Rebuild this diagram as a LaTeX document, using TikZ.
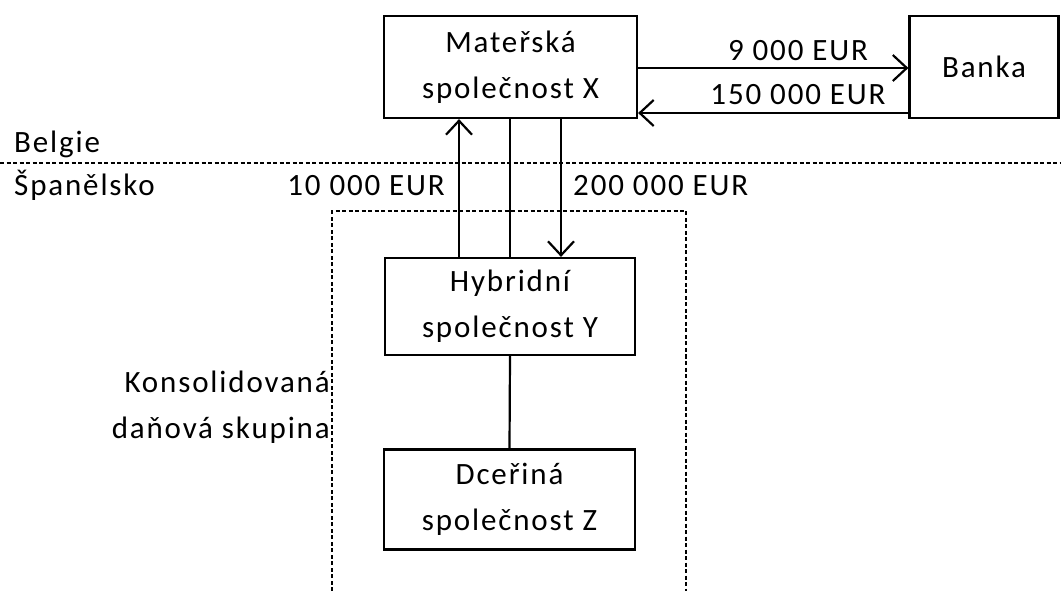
\documentclass[tikz,border=0pt]{standalone}
\usepackage{fontspec}
\setmainfont{Carlito}[LetterSpace=6]
\usetikzlibrary{arrows.meta}
\begin{document}
\begin{tikzpicture}[x=1pt,y=-1pt,
  every node/.style={font=\fontsize{31}{46}\selectfont, inner sep=0pt},
  entity/.style={draw, line width=2.2pt, align=center},
  link/.style={line width=2.2pt},
  flow/.style={line width=2.2pt, -{Straight Barb[length=14pt,width=26pt,line width=2.2pt]}},
  border/.style={line width=2pt, dash pattern=on 4pt off 2.5pt},
  lbl/.style={anchor=base}]
\useasboundingbox (0,0) rectangle (1061,591);

% companies and the bank
\node[entity, minimum width=253pt, minimum height=102pt] (X) at (510.5,67) {Mateřská\\společnost X};
\node[entity, minimum width=149pt, minimum height=102pt] (B) at (984,67) {Banka};
\node[entity, minimum width=250pt, minimum height=97pt] (Y) at (510,306.5) {Hybridní\\společnost Y};
\node[entity, minimum width=251pt, minimum height=100pt] (Z) at (509.5,499.5) {Dceřiná\\společnost Z};

% payments between parent and bank
\draw[flow] (X.east |- 0,68) -- (B.west |- 0,68);
\draw[flow] (B.west |- 0,113) -- (X.east |- 0,113);
\node[lbl] (l9) at (798,61) {9 000 EUR};
\node[lbl] (l150) at (798,105) {150 000 EUR};

% country border
\coordinate (bl) at (0,163);
\coordinate (br) at (1061,163);
\draw[border] (bl) -- (br);
\node[lbl, anchor=base west] (be) at (14,153) {Belgie};
\node[lbl, anchor=base west] (es) at (14,196) {Španělsko};

% flows between parent and hybrid
\draw[flow] (Y.north -| 459,0) -- (X.south -| 459,0);
\draw[link] (X.south -| 510,0) -- (Y.north -| 510,0);
\draw[flow] (X.south -| 561,0) -- (Y.north -| 561,0);
\node[lbl, anchor=base east] (l10) at (445,196) {10 000 EUR};
\node[lbl, anchor=base west] (l200) at (573,196) {200 000 EUR};

% hybrid to subsidiary
\draw[link] (Y.south) -- (Z.north);

% consolidated tax group
\coordinate (g1) at (332,591);
\coordinate (g2) at (332,211);
\coordinate (g3) at (686,211);
\coordinate (g4) at (686,591);
\draw[border] (g1) -- (g2) -- (g3) -- (g4);
\node[lbl, anchor=base east] (k1) at (330,392) {Konsolidovaná};
\node[lbl, anchor=base east] (k2) at (330,438) {daňová skupina};
\end{tikzpicture}
\end{document}
